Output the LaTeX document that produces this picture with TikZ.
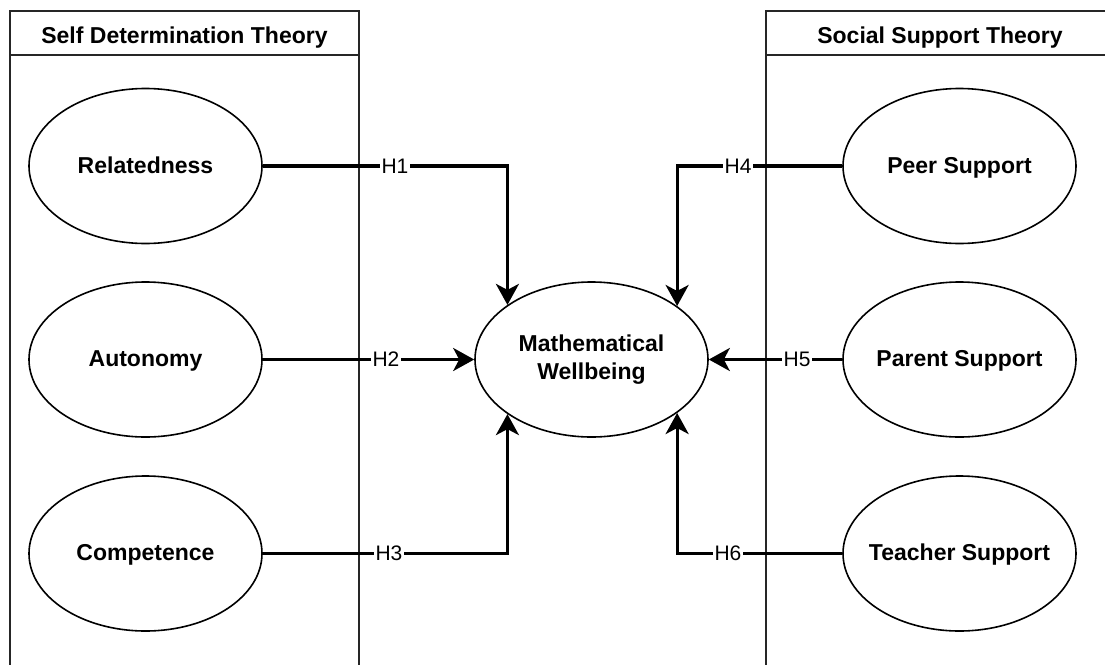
\documentclass[tikz,border=0pt]{standalone}
\usepackage{fontspec}
\setmainfont{Liberation Sans}
\usetikzlibrary{shapes.geometric,arrows.meta,calc}
\tikzset{
  lane/.style={draw=black!85,line width=1.5pt},
  lanetitle/.style={anchor=base,font=\fontsize{23}{28}\selectfont\bfseries,inner sep=0pt},
  construct/.style={ellipse,draw=black,line width=1.6pt,minimum width=233pt,minimum height=155pt,inner sep=0pt,align=center,font=\fontsize{23}{28}\selectfont\bfseries},
  oneline/.style={text height=16.5pt,text depth=2pt},
  conn/.style={line width=3.2pt,draw=black,-{Stealth[length=21pt,width=23pt,inset=6pt]}},
  hlabel/.style={fill=white,inner xsep=1.5pt,inner ysep=0pt,font=\fontsize{21}{24}\selectfont}
}
\begin{document}
\begin{tikzpicture}[x=1pt,y=-1pt]
\useasboundingbox (0,0) rectangle (1105,664);
\clip (0,0) rectangle (1105,664);
% swimlanes
\draw[lane] (10,11) rectangle (359,690);
\draw[lane] (10,55) -- (359,55);
\node[lanetitle] (sdt) at (184.5,43) {Self Determination Theory};
\draw[lane] (766,11) rectangle (1115,690);
\draw[lane] (766,55) -- (1115,55);
\node[lanetitle] (sst) at (940,43) {Social Support Theory};
% constructs
\node[construct,oneline] (rel) at (145.5,166) {\makebox[0pt]{Relatedness}};
\node[construct,oneline] (aut) at (145.5,359.5) {\makebox[0pt]{Autonomy}};
\node[construct,oneline] (com) at (145.5,553.5) {\makebox[0pt]{Competence}};
\node[construct] (math) at (591.5,359.5) {\makebox[0pt]{Mathematical}\\\makebox[0pt]{Wellbeing}};
\node[construct,oneline] (peer) at (959.5,166) {\makebox[0pt]{Peer Support}};
\node[construct,oneline] (par) at (959.5,359.5) {\makebox[0pt]{Parent Support}};
\node[construct,oneline] (tea) at (959.5,553.5) {\makebox[0pt]{Teacher Support}};
% connectors
\draw[conn] (rel.east) -| (math.147.1);
\draw[conn] (aut.east) -- (math.west);
\draw[conn] (com.east) -| (math.-147.1);
\draw[conn] (peer.west) -| (math.32.9);
\draw[conn] (par.west) -- (math.east);
\draw[conn] (tea.west) -| (math.-32.9);
% labels
\node[hlabel] (h1) at (395,166) {H1};
\node[hlabel] (h2) at (386,359.5) {H2};
\node[hlabel] (h3) at (389,553.5) {H3};
\node[hlabel] (h4) at (738,166) {H4};
\node[hlabel] (h5) at (797,359.5) {H5};
\node[hlabel] (h6) at (728,553.5) {H6};
\end{tikzpicture}
\end{document}
